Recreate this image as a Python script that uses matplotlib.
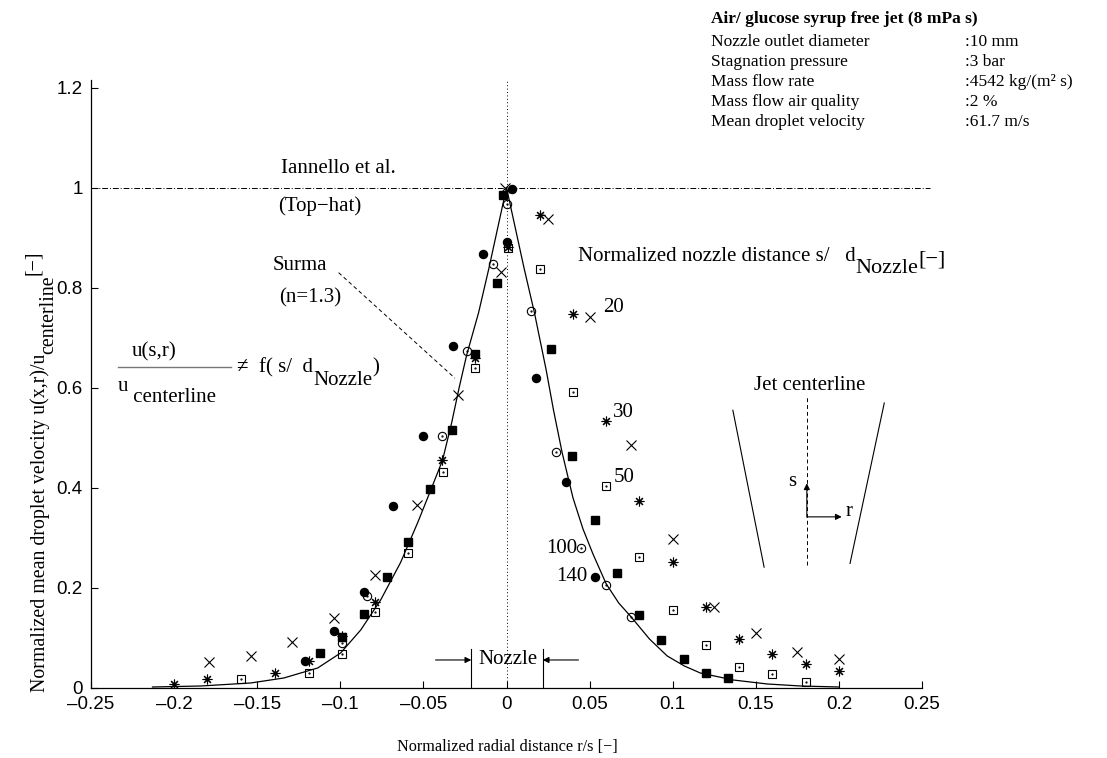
import matplotlib
matplotlib.use('Agg')
import matplotlib.pyplot as plt
from matplotlib.transforms import IdentityTransform

plt.rcParams['font.family'] = 'Liberation Serif'
plt.rcParams['axes.unicode_minus'] = True

# measured points, r/s and u/u_centerline, one pair of lists per symbol
r_fcirc = [-0.121, -0.104, -0.086, -0.0685, -0.050, -0.032, -0.0144, 0.0, 0.0036, 0.018, 0.036, 0.0535]
u_fcirc = [0.054, 0.114, 0.192, 0.363, 0.503, 0.683, 0.868, 0.892, 0.998, 0.619, 0.411, 0.222]

r_ocirc = [-0.099, -0.084, -0.039, -0.024, -0.0084, 0.0006, 0.015, 0.030, 0.045, 0.060, 0.075]
u_ocirc = [0.090, 0.184, 0.503, 0.673, 0.848, 0.968, 0.754, 0.471, 0.279, 0.206, 0.142]

r_fsq = [-0.112, -0.099, -0.086, -0.072, -0.059, -0.046, -0.0325, -0.019, -0.006, -0.0024,
         0.027, 0.0397, 0.053, 0.0667, 0.080, 0.093, 0.107, 0.120, 0.133]
u_fsq = [0.070, 0.102, 0.148, 0.221, 0.291, 0.397, 0.515, 0.668, 0.810, 0.986,
         0.677, 0.463, 0.335, 0.230, 0.146, 0.096, 0.058, 0.030, 0.020]

r_osq = [-0.160, -0.119, -0.099, -0.079, -0.059, -0.0385, -0.019, 0.001, 0.020, 0.040,
         0.060, 0.080, 0.100, 0.120, 0.140, 0.160, 0.180]
u_osq = [0.018, 0.030, 0.068, 0.152, 0.269, 0.431, 0.639, 0.880, 0.838, 0.591,
         0.403, 0.261, 0.156, 0.086, 0.042, 0.028, 0.012]

r_cross = [-0.179, -0.154, -0.129, -0.104, -0.079, -0.054, -0.029, -0.0036, -0.001, 0.025,
           0.050, 0.075, 0.100, 0.125, 0.150, 0.175, 0.200]
u_cross = [0.052, 0.064, 0.092, 0.139, 0.225, 0.366, 0.585, 0.832, 1.0, 0.938,
           0.742, 0.485, 0.297, 0.162, 0.109, 0.072, 0.057]

r_star = [-0.200, -0.180, -0.139, -0.119, -0.099, -0.079, -0.039, -0.019, 0.001, 0.020,
          0.040, 0.060, 0.080, 0.100, 0.120, 0.140, 0.160, 0.180, 0.200]
u_star = [0.008, 0.018, 0.029, 0.054, 0.104, 0.172, 0.455, 0.659, 0.882, 0.946,
          0.748, 0.533, 0.373, 0.251, 0.162, 0.097, 0.068, 0.048, 0.034]

# Surma profile (n=1.3)
r_surma = [-0.213, -0.184, -0.154, -0.134, -0.1136, -0.0998, -0.0877, -0.0757, -0.0637, -0.0535,
           -0.046, -0.0385, -0.033, -0.0285, -0.024, -0.0168, -0.0105, 0.0,
           0.0105, 0.0168, 0.0239, 0.0283, 0.0335, 0.040, 0.046, 0.052, 0.060, 0.0675,
           0.075, 0.086, 0.0967, 0.107, 0.1166, 0.1364, 0.157, 0.177, 0.200]
u_surma = [0.002, 0.004, 0.010, 0.020, 0.040, 0.070, 0.116, 0.176, 0.251, 0.330,
           0.392, 0.455, 0.530, 0.600, 0.665, 0.750, 0.840, 1.0,
           0.840, 0.750, 0.635, 0.555, 0.470, 0.380, 0.318, 0.268, 0.208, 0.170,
           0.142, 0.098, 0.064, 0.044, 0.030, 0.016, 0.008, 0.004, 0.002]

xticks = [-0.25, -0.2, -0.15, -0.1, -0.05, 0, 0.05, 0.1, 0.15, 0.2, 0.25]
xticklabels = ['\u20130.25', '\u20130.2', '\u20130.15', '\u20130.1', '\u20130.05', '0',
               '0.05', '0.1', '0.15', '0.2', '0.25']
yticks = [0, 0.2, 0.4, 0.6, 0.8, 1.0, 1.2]
yticklabels = ['0', '0.2', '0.4', '0.6', '0.8', '1', '1.2']

info_rows = ['Nozzle outlet diameter', 'Stagnation pressure', 'Mass flow rate',
             'Mass flow air quality', 'Mean droplet velocity']
info_vals = [':10 mm', ':3 bar', ':4542 kg/(m\u00b2 s)', ':2 %', ':61.7 m/s']

W, H = 1107, 758
fs = 15
fig = plt.figure(figsize=(W / 100, H / 100), dpi=100)
ax = fig.add_axes([91 / W, 70 / H, 831 / W, 608 / H])
ax.set_xlim(-0.25, 0.25)
ax.set_ylim(0, 1.215)
renderer = fig.canvas.get_renderer()


def chain_text(parts, x, y, rotation=0, size=fs, **kw):
    # pieces of text laid end to end, each with its own baseline shift (pixels, y down)
    px, py = x, H - y
    for part in parts:
        s, shift = part[0], part[1]
        sz = part[2] if len(part) > 2 else size
        if rotation == 0:
            t = fig.text(px, py - shift, s, transform=IdentityTransform(), fontsize=sz,
                         ha='left', va='baseline', **kw)
            px += t.get_window_extent(renderer).width
        else:
            t = fig.text(px + shift, py, s, transform=IdentityTransform(), fontsize=sz,
                         ha='left', va='baseline', rotation=90, rotation_mode='anchor', **kw)
            py += t.get_window_extent(renderer).height


for s in ['top', 'right']:
    ax.spines[s].set_visible(False)
for s in ['left', 'bottom']:
    ax.spines[s].set_linewidth(0.9)

sans = 'Liberation Sans'
ax.set_xticks(xticks)
ax.set_xticklabels(xticklabels, fontfamily=sans, fontsize=13.5)
ax.set_yticks(yticks)
ax.set_yticklabels(yticklabels, fontfamily=sans, fontsize=13.5)
ax.tick_params(direction='in', length=5, width=0.8, pad=6)

# reference lines
ax.axhline(1.0, xmin=0, xmax=1.01, color='k', lw=0.7, ls=(0, (6, 2, 1, 2)), clip_on=False)
ax.axvline(0, color='k', lw=0.7, ls=(0, (1, 2.5)))

ax.plot(r_surma, u_surma, color='k', lw=0.9)

ax.plot(r_fcirc, u_fcirc, 'o', ms=5.8, color='k', ls='none')
ax.plot(r_fsq, u_fsq, 's', ms=6.0, color='k', ls='none')
ax.plot(r_ocirc, u_ocirc, 'o', ms=6.0, mfc='none', mec='k', mew=0.8, ls='none')
ax.plot(r_ocirc, u_ocirc, '.', ms=1.2, color='k', ls='none')
ax.plot(r_osq, u_osq, 's', ms=6.2, mfc='none', mec='k', mew=0.8, ls='none')
ax.plot(r_osq, u_osq, '.', ms=1.2, color='k', ls='none')
ax.plot(r_cross, u_cross, 'x', ms=6.5, color='k', mew=0.8, ls='none')
ax.plot(r_star, u_star, marker=(8, 2, 0), ms=7, color='k', mew=0.8, ls='none')

# annotations
ax.text(-0.1358, 1.038, 'Iannello et al.', fontsize=fs, va='center')
ax.text(-0.1376, 0.962, '(Top\u2212hat)', fontsize=fs, va='center')
ax.text(-0.1406, 0.844, 'Surma', fontsize=fs, va='center')
ax.text(-0.137, 0.780, '(n=1.3)', fontsize=fs, va='center')
ax.plot([-0.101, -0.031], [0.830, 0.619], color='k', lw=0.7, ls=(0, (4, 3)))

ax.text(-0.212, 0.672, 'u(s,r)', fontsize=fs, ha='center', va='center')
ax.plot([-0.2338, -0.1659], [0.641, 0.641], color='#777777', lw=1.0, clip_on=False)
chain_text([('u', 0), (' centerline', 11)], 118, 391)
chain_text([('\u2260  f( s/  d', 0), ('Nozzle', 13), (')', 0)], 237, 372)

chain_text([('Normalized nozzle distance s/   d', 0), ('Nozzle', 12, 16), ('[\u2212]', 3, 16)], 578, 261)
ax.text(0.0583, 0.760, '20', fontsize=fs, va='center')
ax.text(0.0643, 0.551, '30', fontsize=fs, va='center')
ax.text(0.0643, 0.421, '50', fontsize=fs, va='center')
ax.text(0.0427, 0.279, '100', fontsize=fs, va='center', ha='right')
ax.text(0.0487, 0.222, '140', fontsize=fs, va='center', ha='right')

# jet sketch
ax.text(0.1824, 0.605, 'Jet centerline', fontsize=fs, ha='center', va='center')
ax.plot([0.1807, 0.1807], [0.2455, 0.581], color='k', lw=0.7, ls=(0, (4, 3)))
ax.plot([0.1362, 0.155], [0.555, 0.2415], color='k', lw=0.8)
ax.plot([0.2273, 0.2067], [0.5695, 0.2489], color='k', lw=0.8)
ax.annotate('', xy=(0.1807, 0.409), xytext=(0.1807, 0.342),
            arrowprops=dict(arrowstyle='-|>', color='k', lw=0.8, mutation_scale=9,
                            shrinkA=0, shrinkB=0))
ax.annotate('', xy=(0.2017, 0.342), xytext=(0.1807, 0.342),
            arrowprops=dict(arrowstyle='-|>', color='k', lw=0.8, mutation_scale=9,
                            shrinkA=0, shrinkB=0))
ax.text(0.1717, 0.412, 's', fontsize=fs, ha='center', va='center')
ax.text(0.2043, 0.352, 'r', fontsize=fs, va='center')

# nozzle width marker
ax.plot([-0.0212, -0.0212], [0, 0.077], color='k', lw=0.8)
ax.plot([0.0218, 0.0218], [0, 0.077], color='k', lw=0.8)
ax.text(0.0006, 0.056, 'Nozzle', fontsize=fs, ha='center', va='center')
ax.annotate('', xy=(-0.0212, 0.056), xytext=(-0.0427, 0.056),
            arrowprops=dict(arrowstyle='-|>', color='k', lw=0.8, mutation_scale=9,
                            shrinkA=0, shrinkB=0))
ax.annotate('', xy=(0.0218, 0.056), xytext=(0.0433, 0.056),
            arrowprops=dict(arrowstyle='-|>', color='k', lw=0.8, mutation_scale=9,
                            shrinkA=0, shrinkB=0))

# axis labels
fig.text(507 / W, 1 - 747 / H, 'Normalized radial distance r/s [\u2212]', fontsize=11.7,
         ha='center', va='center')
chain_text([('Normalized mean droplet velocity u(x,r)/u', 0), ('centerline', 8), ('[\u2212]', -7)],
           45, 692, rotation=90, size=14.3)

# operating conditions
fis = 12.5
chain_text([('Air/ glucose syrup free jet (8 mPa s)', 0)], 711, 23, size=fis, fontweight='bold')
for i, (lab, val) in enumerate(zip(info_rows, info_vals)):
    yy = 46 + 20 * i
    chain_text([(lab, 0)], 711, yy, size=fis)
    chain_text([(val, 0)], 965, yy, size=fis)

fig.savefig('out.png', dpi=100)
